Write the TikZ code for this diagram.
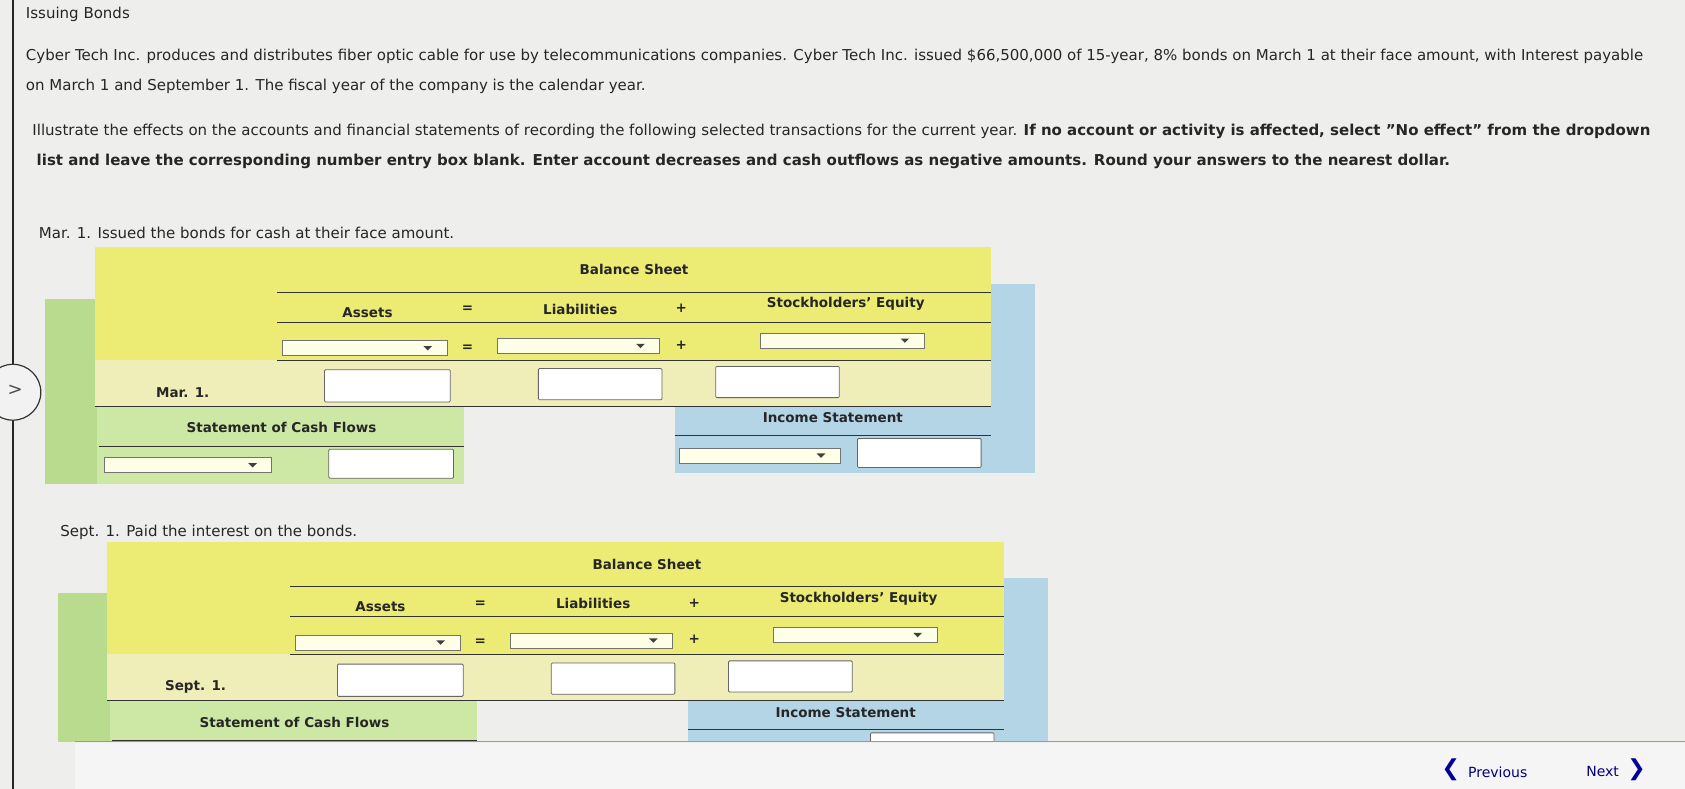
\documentclass[tikz,border=0pt]{standalone}
\usepackage{fontspec}
\setmainfont{DejaVu Sans}
\tikzset{
  txt/.style={inner sep=0pt,anchor=west,font=\fontsize{15}{17}\selectfont,text=black!85},
  bld/.style={inner sep=0pt,font=\fontsize{13.5}{15}\selectfont\bfseries,text=black!85},
  rule/.style={draw=black!80,line width=0.9pt},
  inbox/.style={draw=black!60,fill=white,line width=0.8pt,rounded corners=1pt},
  ddbox/.style={draw=black!55,line width=0.8pt},
}
\definecolor{ylw}{HTML}{ECEB73}
\definecolor{lylw}{HTML}{EFEDB8}
\definecolor{grn}{HTML}{B9DB8D}
\definecolor{lgrn}{HTML}{CDE8A4}
\definecolor{blu}{HTML}{B4D5E6}
\definecolor{bg}{HTML}{EEEEEC}
\newcommand{\dropd}[5]{% name, x1, x2, y, fill
  \draw[ddbox,fill=#5] (#2,#4-7) rectangle (#3,#4+7);
  \fill[black!75] (#3-22,#4-2) -- (#3-14,#4-2) -- (#3-18,#4+2) -- cycle;
  \coordinate (#1) at (#2,#4);}
\newcommand{\bondtable}[2]{% prefix, date
  \fill[grn] (42,278) rectangle (432,450);
  \fill[blu] (628,264) rectangle (963,440);
  \fill[ylw] (88,230) rectangle (922,335);
  \fill[lylw] (88,335) rectangle (922,378);
  \fill[lgrn] (90,378) rectangle (432,450);
  \draw[rule] (258,272) -- (922,272);
  \draw[rule] (258,300) -- (922,300);
  \draw[rule] (258,335) -- (922,335);
  \draw[rule] (88,378) -- (922,378);
  \node[bld] (#1bs) at (590,251) {Balance Sheet};
  \node[bld] (#1as) at (342,291) {Assets};
  \node[bld] (#1eq) at (435,288) {=};
  \node[bld] (#1li) at (540,288) {Liabilities};
  \node[bld] (#1pl) at (634,287) {+};
  \node[bld] (#1se) at (787,283) {Stockholders' Equity};
  \dropd{#1d1}{263}{416}{324}{white!90!yellow}
  \node[bld] (#1eq2) at (435,324) {=};
  \dropd{#1d2}{463}{614}{322}{white!90!yellow}
  \node[bld] (#1pl2) at (634,321) {+};
  \dropd{#1d3}{708}{860}{317}{white!90!yellow}
  \node[bld] (#1dt) at (170,365) {#2};
  \draw[inbox] (302,344) rectangle (419,374);
  \draw[inbox] (501,343) rectangle (616,372);
  \draw[inbox] (666,341) rectangle (781,370);
  \node[bld] (#1cf) at (262,398) {Statement of Cash Flows};
  \draw[rule] (92,415) -- (432,415);
  \dropd{#1d4}{97}{253}{433}{white!90!yellow}
  \draw[inbox] (306,418) rectangle (422,445);
  \node[bld] (#1is) at (775,389) {Income Statement};
  \draw[rule] (628,405) -- (922,405);
  \dropd{#1d5}{632}{782}{424}{white!90!yellow}
  \draw[inbox] (798,408) rectangle (913,435);
}
\begin{document}
\begin{tikzpicture}[x=1.0746pt,y=-1.0746pt]
\useasboundingbox (0,0) rectangle (1568,734);
\fill[bg] (0,0) rectangle (1568,734);
\draw[black!85,line width=2pt] (12,0) -- (12,734);
\node[txt] (title) at (24,13) {Issuing Bonds};
\node[txt] (p1) at (24,52) {Cyber Tech Inc. produces and distributes fiber optic cable for use by telecommunications companies. Cyber Tech Inc. issued \$66,500,000 of 15-year, 8\% bonds on March 1 at their face amount, with Interest payable};
\node[txt] (p2) at (24,80) {on March 1 and September 1. The fiscal year of the company is the calendar year.};
\node[txt] (p3) at (30,122) {Illustrate the effects on the accounts and financial statements of recording the following selected transactions for the current year. \textbf{If no account or activity is affected, select "No effect" from the dropdown}};
\node[txt,font=\fontsize{15}{17}\selectfont\bfseries] (p4) at (34,150) {list and leave the corresponding number entry box blank. Enter account decreases and cash outflows as negative amounts. Round your answers to the nearest dollar.};
\node[txt] (m1) at (36,217) {Mar. 1. Issued the bonds for cash at their face amount.};
\bondtable{a}{Mar. 1.}
\draw[black!80,line width=1.2pt,fill=white!95!black] (12,365) circle (26);
\node[font=\fontsize{18}{18}\selectfont,text=black!70] (arr) at (14,363) {>};
\node[txt] (s1) at (56,495) {Sept. 1. Paid the interest on the bonds.};
\begin{scope}
\clip (0,0) rectangle (1568,690);
\begin{scope}[shift={(12,274)}]
\bondtable{b}{Sept. 1.}
\end{scope}
\end{scope}
\draw[black!40,line width=1pt] (70,690) -- (1568,690);
\fill[white!96!black] (70,691) rectangle (1568,734);
\node[font=\fontsize{22}{22}\selectfont\bfseries,text=blue!60!black] (pc) at (1350,716) {\char"276E};
\node[txt,font=\fontsize{14}{16}\selectfont,text=blue!50!black] (prev) at (1366,719) {Previous};
\node[txt,font=\fontsize{14}{16}\selectfont,text=blue!50!black] (next) at (1476,718) {Next};
\node[font=\fontsize{22}{22}\selectfont\bfseries,text=blue!60!black] (nc) at (1523,716) {\char"276F};
\end{tikzpicture}
\end{document}
